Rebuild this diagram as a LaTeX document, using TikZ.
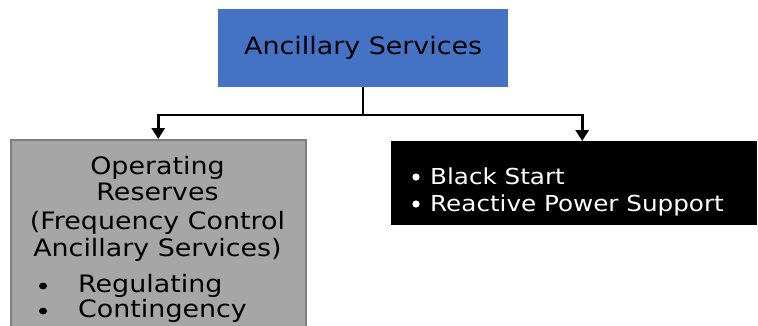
\documentclass[tikz,border=0pt]{standalone}
\usepackage{fontspec}
\setmainfont{DejaVu Sans}
\newfontfamily\vfont[FakeStretch=1.12]{DejaVu Sans}
\usetikzlibrary{arrows.meta}
\definecolor{asblue}{HTML}{4472C4}
\definecolor{opgray}{HTML}{A6A6A6}
\definecolor{opedge}{HTML}{7F7F7F}
\tikzset{
  boxshape/.style={rectangle, inner sep=0pt, anchor=north west},
  conn/.style={draw=black, line width=2.8pt, -{Triangle[width=13pt,length=11pt]}},
  txt/.style={inner sep=0pt, font=\vfont\fontsize{22}{27}\selectfont},
  bigtxt/.style={inner sep=0pt, font=\vfont\fontsize{24}{27.5}\selectfont},
}
\begin{document}
\begin{tikzpicture}[x=1pt,y=-1pt]
\useasboundingbox (0,0) rectangle (758,325);
\clip (0,0) rectangle (758,325);
% boxes
\node[boxshape, fill=asblue, minimum width=290pt, minimum height=78pt] (as) at (218,9) {};
\node[boxshape, fill=opgray, draw=opedge, line width=1.5pt, minimum width=295pt, minimum height=200pt] (op) at (10,139) {};
\node[boxshape, fill=black, minimum width=366pt, minimum height=84pt] (bs) at (391,141) {};
% texts
\node[bigtxt, text=black] (ast) at (as.center) {Ancillary Services};
\node[bigtxt, anchor=base] (op1) at (157.5,174) {Operating};
\node[bigtxt, anchor=base] (op2) at (157.5,200) {Reserves};
\node[bigtxt, anchor=base] (op3) at (157.5,229) {(Frequency Control};
\node[bigtxt, anchor=base] (op4) at (157.5,256) {Ancillary Services)};
\node[bigtxt, anchor=base west] (reg) at (78,292) {Regulating};
\node[bigtxt, anchor=base west] (con) at (78,317) {Contingency};
\fill[black] (reg.base west) ++(-35,-6) ellipse (4pt and 3.4pt);
\fill[black] (con.base west) ++(-35,-6) ellipse (4pt and 3.4pt);
\node[txt, text=white, anchor=base west] (bl) at (430,184) {Black Start};
\node[txt, text=white, anchor=base west] (rp) at (430,211) {Reactive Power Support};
\fill[white] (bl.base west) ++(-14,-7) circle (3.6pt);
\fill[white] (rp.base west) ++(-14,-7) circle (3.6pt);
% connectors
\coordinate (jn) at (363,115);
\draw[line width=2.8pt] (as.south -| jn) -- (jn);
\draw[conn] (jn) -| (op.north);
\draw[conn] (jn) -| ([xshift=8pt]bs.north);
\end{tikzpicture}
\end{document}
